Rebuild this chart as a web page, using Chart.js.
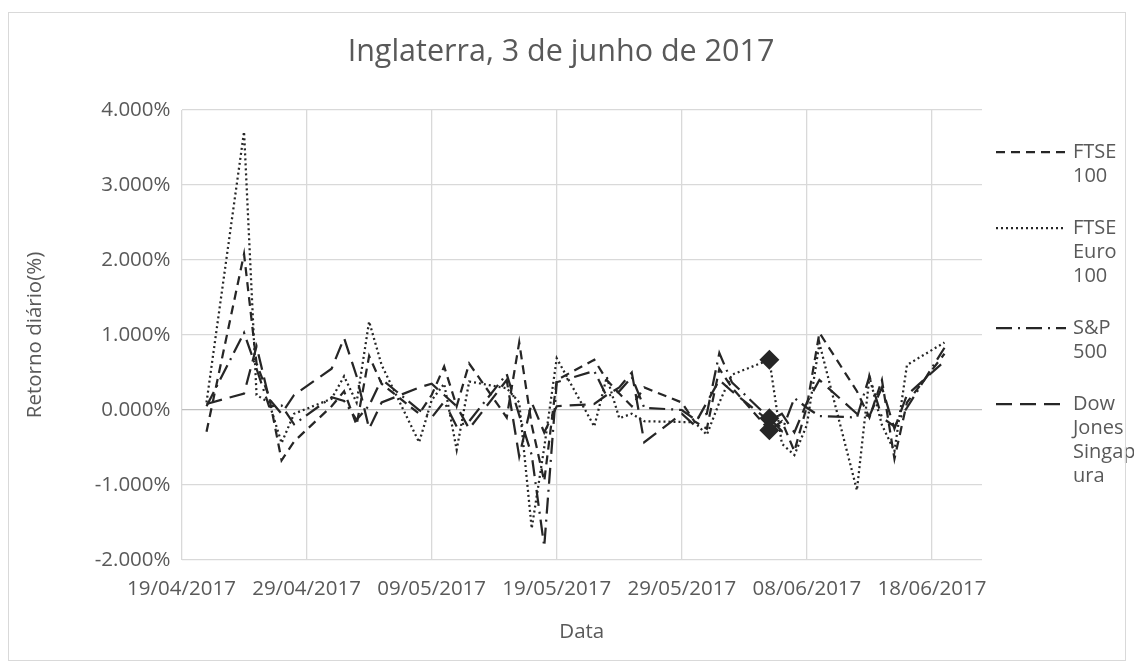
<!DOCTYPE html>
<html lang="pt">
<head>
    <meta charset="UTF-8">
    <title>Inglaterra, 3 de junho de 2017</title>
    <script src="https://cdn.jsdelivr.net/npm/chart.js"></script>
    <style>
        body { margin: 0; padding: 0; background: #fff; }
        #wrap { width: 1134px; height: 668px; }
    </style>
</head>
<body>
<div id="wrap"><canvas id="chart" width="1134" height="668"></canvas></div>
<script>
    // trading days
    const dates = ['2017-04-21','2017-04-24','2017-04-25','2017-04-26','2017-04-27','2017-04-28',
        '2017-05-01','2017-05-02','2017-05-03','2017-05-04','2017-05-05','2017-05-08','2017-05-09',
        '2017-05-10','2017-05-11','2017-05-12','2017-05-15','2017-05-16','2017-05-17','2017-05-18',
        '2017-05-19','2017-05-22','2017-05-23','2017-05-24','2017-05-25','2017-05-26','2017-05-29',
        '2017-05-30','2017-05-31','2017-06-01','2017-06-02','2017-06-05','2017-06-06','2017-06-07',
        '2017-06-08','2017-06-09','2017-06-12','2017-06-13','2017-06-14','2017-06-15','2017-06-16',
        '2017-06-19'];

    // daily returns, %
    const ftse100 = [-0.29, 2.08, 0.62, 0.18, -0.67, -0.42, 0.05, 0.25, -0.20, 0.72, 0.35, -0.05, 0.20,
        0.58, 0.05, 0.62, -0.10, 0.90, -0.20, -0.95, 0.40, 0.67, 0.40, 0.22, 0.05, 0.30, 0.10,
        -0.15, -0.25, 0.55, 0.30, -0.27, -0.15, -0.55, 0.05, 1.03, 0.25, -0.10, 0.40, -0.65, 0.10,
        0.75];
    const ftseEuro100 = [0.10, 3.71, 0.20, 0.10, -0.44, -0.05, 0.15, 0.45, 0.10, 1.18, 0.60, -0.43, 0.13,
        0.35, -0.53, 0.38, 0.29, 0.10, -1.58, -0.50, 0.69, -0.22, 0.44, -0.11, -0.05, -0.15, -0.16,
        -0.16, -0.33, 0.10, 0.47, 0.67, -0.45, -0.60, -0.20, 0.89, -1.07, 0.44, -0.20, -0.55, 0.60,
        0.90];
    const sp500 = [0.05, 1.03, 0.55, 0.05, 0.06, -0.19, 0.17, 0.12, -0.13, 0.06, 0.41, 0.00, -0.10,
        0.11, -0.22, -0.15, 0.48, -0.07, -0.60, -1.82, 0.37, 0.52, 0.18, 0.25, 0.44, 0.03, 0.00,
        -0.12, -0.05, 0.76, 0.37, -0.11, -0.28, 0.16, 0.03, -0.08, -0.10, 0.45, -0.10, -0.22, 0.03,
        0.83];
    const djSingapura = [0.08, 0.22, 0.85, 0.15, -0.05, 0.20, 0.55, 0.96, 0.45, -0.25, 0.10, 0.30, 0.35,
        0.20, 0.05, -0.25, 0.40, -0.62, 0.10, -0.30, 0.05, 0.08, 0.20, 0.30, 0.50, -0.43, -0.05,
        -0.20, 0.10, 0.40, 0.25, -0.15, -0.05, -0.30, 0.10, 0.40, -0.05, -0.08, 0.30, -0.25, 0.20,
        0.65];

    const markedDate = '2017-06-05';
    const legendLabels = [['FTSE', '100'], ['FTSE', 'Euro', '100'], ['S&P', '500'], ['Dow', 'Jones', 'Singap', 'ura']];

    const axisStart = Date.UTC(2017, 3, 19);
    const DAY = 86400000;
    const dayOf = s => (Date.parse(s) - axisStart) / DAY;
    const fmtDate = v => {
        const d = new Date(axisStart + v * DAY);
        const p = n => String(n).padStart(2, '0');
        return p(d.getUTCDate()) + '/' + p(d.getUTCMonth() + 1) + '/' + d.getUTCFullYear();
    };

    const INK = '#262626';
    const GREY = '#595959';
    const FONT = '"Open Sans", sans-serif';
    const markIdx = dates.indexOf(markedDate);

    function makeSet(label, values, dash, marker) {
        return {
            label: label,
            data: values.map((v, i) => ({ x: dayOf(dates[i]), y: v })),
            borderColor: INK,
            borderWidth: 2.25,
            borderDash: dash,
            tension: 0,
            fill: false,
            pointStyle: 'rectRot',
            pointRadius: values.map((v, i) => (marker && i === markIdx) ? 10 : 0),
            pointBackgroundColor: INK,
            pointBorderColor: INK,
            pointBorderWidth: 0
        };
    }

    // legend drawn by hand so the labels can wrap like Excel does
    const sideLegend = {
        id: 'sideLegend',
        afterDraw(chart) {
            const c = chart.ctx;
            c.save();
            // title
            c.fillStyle = GREY;
            c.font = '30.5px ' + FONT;
            c.textAlign = 'center';
            c.textBaseline = 'middle';
            c.fillText('Inglaterra, 3 de junho de 2017', 561, 52);
            // legend
            c.font = '20px ' + FONT;
            c.textAlign = 'left';
            let y = 152;
            chart.data.datasets.forEach((ds, i) => {
                c.strokeStyle = INK;
                c.lineWidth = 2.25;
                c.setLineDash(ds.borderDash);
                c.beginPath();
                c.moveTo(996, y);
                c.lineTo(1066, y);
                c.stroke();
                c.setLineDash([]);
                legendLabels[i].forEach((t, k) => {
                    c.fillText(t, 1073, y + k * 24);
                });
                y += legendLabels[i].length * 24 + 28;
            });
            // chart border
            c.strokeStyle = '#d9d9d9';
            c.lineWidth = 1;
            c.strokeRect(8.5, 12.5, 1117, 648);
            c.restore();
        }
    };

    new Chart(document.getElementById('chart').getContext('2d'), {
        type: 'line',
        data: {
            datasets: [
                makeSet('FTSE 100', ftse100, [9, 6], true),
                makeSet('FTSE Euro 100', ftseEuro100, [2, 3], true),
                makeSet('S&P 500', sp500, [16, 6, 2, 6], true),
                makeSet('Dow Jones Singapura', djSingapura, [16, 8], false)
            ]
        },
        options: {
            responsive: false,
            animation: false,
            layout: { padding: { top: 110, right: 152, bottom: 20, left: 16 } },
            plugins: {
                legend: { display: false },
                title: { display: false },
                tooltip: { enabled: false }
            },
            scales: {
                x: {
                    type: 'linear',
                    min: 0,
                    max: 64,
                    ticks: {
                        stepSize: 10,
                        includeBounds: false,
                        autoSkip: false,
                        maxRotation: 0,
                        padding: 17,
                        color: GREY,
                        font: { family: FONT, size: 20.5 },
                        callback: v => fmtDate(v)
                    },
                    grid: { color: '#d9d9d9', lineWidth: 1.3, drawTicks: false },
                    border: { display: false },
                    title: {
                        display: true,
                        text: 'Data',
                        color: GREY,
                        font: { family: FONT, size: 20.5 },
                        padding: { top: 4, bottom: 4 }
                    },
                    afterFit: s => { s.height = 88; }
                },
                y: {
                    min: -2,
                    max: 4,
                    ticks: {
                        stepSize: 1,
                        padding: 11,
                        color: GREY,
                        font: { family: FONT, size: 20.5 },
                        callback: v => v.toFixed(3) + '%'
                    },
                    grid: {
                        color: c => c.tick && c.tick.value === 0 ? '#bfbfbf' : '#d9d9d9',
                        lineWidth: 1.3,
                        drawTicks: false
                    },
                    border: { display: false },
                    title: {
                        display: true,
                        text: 'Retorno diário(%)',
                        color: GREY,
                        font: { family: FONT, size: 20.5 },
                        padding: { top: 7, bottom: 4 }
                    },
                    afterFit: s => { s.width = 165.5; }
                }
            }
        },
        plugins: [sideLegend]
    });
</script>
</body>
</html>
